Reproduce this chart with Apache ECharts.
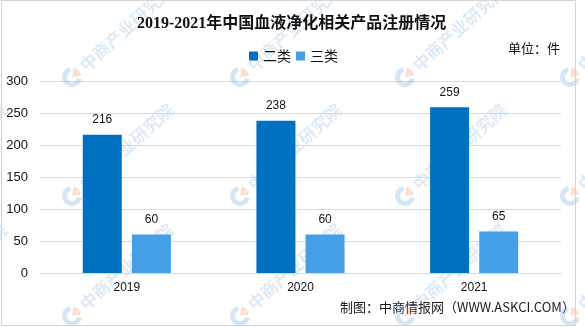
<!DOCTYPE html>
<html>
<head>
<meta charset="utf-8">
<script src="https://cdn.jsdelivr.net/npm/echarts@6/dist/echarts.min.js"></script>
<style>
  html, body { margin: 0; padding: 0; background: #fff; }
  #chart { width: 585px; height: 327px; }
</style>
</head>
<body>
<div id="chart"></div>
<script>
// Registrations of blood-purification products, by device class
const years = ['2019', '2020', '2021'];
const classII = [216, 238, 259];
const classIII = [60, 60, 65];
const seriesNames = ['二类', '三类'];

const titleText = '2019-2021年中国血液净化相关产品注册情况';
const unitText = '单位：件';
const sourceText = '制图：中商情报网（WWW.ASKCI.COM）';
const markText = '中商产业研究院';

const cn = "'Noto Sans CJK SC', 'Liberation Sans', sans-serif";
const num = "'Liberation Sans', Arial, sans-serif";

// faint repeated brand marks laid over the plot
const markXs = [-95, 72, 240, 405, 570];
const markYs = [77, 196, 316];
const marks = [];
const ang = 42 * Math.PI / 180;
markYs.forEach(function (my) {
  markXs.forEach(function (mx) {
    marks.push({
      type: 'sector', z: 100, silent: true,
      shape: { cx: mx, cy: my, r: 10, r0: 5, startAngle: 0.2, endAngle: 1.5 * Math.PI - 0.2 },
      style: { fill: 'rgba(100,160,215,0.28)' }
    });
    marks.push({
      type: 'sector', z: 100, silent: true,
      shape: { cx: mx, cy: my, r: 9, r0: 0, startAngle: -Math.PI / 2 + 0.15, endAngle: -0.15 },
      style: { fill: 'rgba(240,140,100,0.28)' }
    });
    marks.push({
      type: 'group', z: 100, silent: true, x: mx, y: my, rotation: ang,
      children: [{
        type: 'text', x: 14, y: 0, silent: true,
        style: {
          text: markText, fill: 'rgba(100,160,215,0.22)',
          font: 'bold 17px ' + cn, verticalAlign: 'middle', align: 'left'
        }
      }]
    });
  });
});

const chart = echarts.init(document.getElementById('chart'), null, { renderer: 'canvas' });

chart.setOption({
  backgroundColor: '#ffffff',
  animation: false,
  title: {
    text: titleText,
    left: 132, top: 11,
    textStyle: {
      fontFamily: "'Liberation Serif', 'Noto Sans CJK SC', serif",
      fontWeight: 'bold', fontSize: 16, color: '#111'
    }
  },
  legend: {
    data: seriesNames,
    left: 244, top: 44,
    icon: 'rect', itemWidth: 9, itemHeight: 9, itemGap: 5,
    textStyle: { fontFamily: cn, fontSize: 14, color: '#111' }
  },
  grid: { left: 40, right: 24, top: 81, bottom: 54 },
  xAxis: {
    type: 'category',
    data: years,
    axisLine: { lineStyle: { color: '#d9d9d9', width: 1 } },
    axisTick: { show: false },
    axisLabel: { fontFamily: num, fontSize: 12, color: '#111', margin: 9 }
  },
  yAxis: {
    type: 'value',
    min: 0, max: 300, interval: 50,
    axisLine: { show: false },
    axisTick: { show: false },
    splitLine: { lineStyle: { color: '#d9d9d9', width: 1 } },
    axisLabel: { fontFamily: num, fontSize: 13, color: '#111', margin: 12 }
  },
  series: [
    {
      name: seriesNames[0], type: 'bar', data: classII,
      barWidth: 39, barGap: '26%',
      itemStyle: { color: '#0070C0' },
      label: { show: true, position: 'top', distance: 9, fontFamily: num, fontSize: 12, color: '#111' }
    },
    {
      name: seriesNames[1], type: 'bar', data: classIII,
      barWidth: 39, barGap: '26%',
      itemStyle: { color: '#459FE6' },
      label: { show: true, position: 'top', distance: 9, fontFamily: num, fontSize: 12, color: '#111' }
    }
  ],
  graphic: [
    {
      type: 'rect', silent: true, z: 110,
      shape: { x: 1.5, y: 0.5, width: 574, height: 325 },
      style: { fill: 'none', stroke: '#d4d4d4', lineWidth: 1 }
    },
    {
      type: 'text', left: 508, top: 42,
      style: { text: unitText, font: '13px ' + cn, fill: '#111' }
    },
    {
      type: 'text', left: 340, top: 301,
      style: { text: sourceText, font: '13px ' + cn, fill: '#1a1a1a' }
    }
  ].concat(marks)
});
</script>
</body>
</html>
